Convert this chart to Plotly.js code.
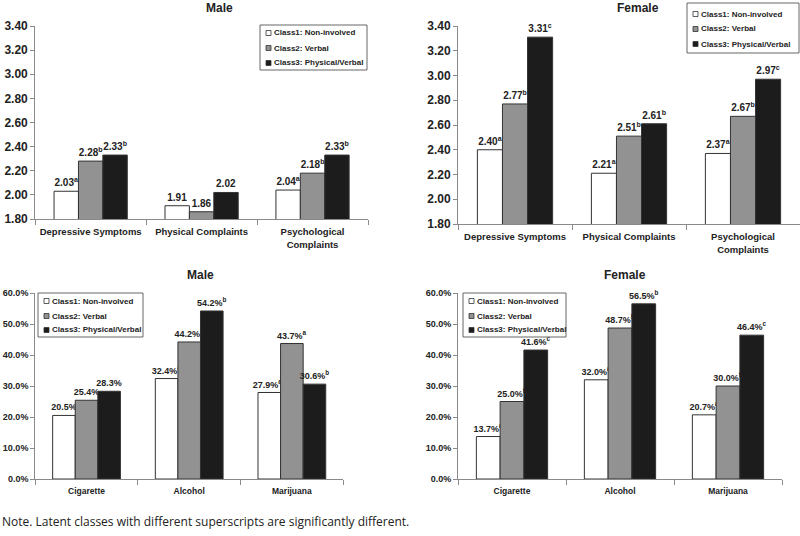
<!DOCTYPE html>
<html>
<head>
<meta charset="utf-8">
<script src="https://cdn.plot.ly/plotly-3.0.1.min.js"></script>
<style>
  body { margin: 0; background: #fff; }
  #chart { width: 800px; height: 536px; }
</style>
</head>
<body>
<div id="chart"></div>
<script>
// categories
var symptoms = ["Depressive Symptoms", "Physical Complaints", "Psychological<br>Complaints"];
var substances = ["Cigarette", "Alcohol", "Marijuana"];
var classNames = ["Class1: Non-involved", "Class2: Verbal", "Class3: Physical/Verbal"];

// mean scores (top row)
var maleSym1 = [2.03, 1.91, 2.04];
var maleSym2 = [2.28, 1.86, 2.18];
var maleSym3 = [2.33, 2.02, 2.33];
var maleSymSup1 = ["a", "", "a"];
var maleSymSup2 = ["b", "", "b"];
var maleSymSup3 = ["b", "", "b"];

var femaleSym1 = [2.40, 2.21, 2.37];
var femaleSym2 = [2.77, 2.51, 2.67];
var femaleSym3 = [3.31, 2.61, 2.97];
var femaleSymSup1 = ["a", "a", "a"];
var femaleSymSup2 = ["b", "b", "b"];
var femaleSymSup3 = ["c", "b", "c"];

// percentages (bottom row)
var maleSub1 = [20.5, 32.4, 27.9];
var maleSub2 = [25.4, 44.2, 43.7];
var maleSub3 = [28.3, 54.2, 30.6];
var maleSubSup1 = ["", "a", "ab"];
var maleSubSup2 = ["", "b", "a"];
var maleSubSup3 = ["", "b", "b"];

var femaleSub1 = [13.7, 32.0, 20.7];
var femaleSub2 = [25.0, 48.7, 30.0];
var femaleSub3 = [41.6, 56.5, 46.4];
var femaleSubSup1 = ["a", "a", "a"];
var femaleSubSup2 = ["b", "b", "b"];
var femaleSubSup3 = ["c", "b", "c"];

var fills = ["#ffffff", "#929292", "#1c1c1c"];
var FONT = "Liberation Sans, Arial, sans-serif";
var W = 800, H = 536;

function labels(vals, sups, digits, suffix) {
  return vals.map(function(v, i) {
    var s = v.toFixed(digits) + suffix;
    if (sups[i]) s += "<sup>" + sups[i] + "</sup>";
    return s;
  });
}

function bars(cats, vals, sups, k, ax, digits, suffix, size) {
  return {
    type: "bar",
    x: cats,
    y: vals,
    name: classNames[k],
    xaxis: "x" + ax,
    yaxis: "y" + ax,
    marker: {color: fills[k], line: {color: "#333", width: 1}},
    text: labels(vals, sups, digits, suffix),
    textposition: "outside",
    constraintext: "none",
    cliponaxis: false,
    textfont: {family: FONT, size: size, weight: 700, color: "#222"},
    hoverinfo: "none"
  };
}

var traces = [
  bars(symptoms, maleSym1, maleSymSup1, 0, "", 2, "", 10),
  bars(symptoms, maleSym2, maleSymSup2, 1, "", 2, "", 10),
  bars(symptoms, maleSym3, maleSymSup3, 2, "", 2, "", 10),
  bars(symptoms, femaleSym1, femaleSymSup1, 0, "2", 2, "", 10),
  bars(symptoms, femaleSym2, femaleSymSup2, 1, "2", 2, "", 10),
  bars(symptoms, femaleSym3, femaleSymSup3, 2, "2", 2, "", 10),
  bars(substances, maleSub1, maleSubSup1, 0, "3", 1, "%", 9),
  bars(substances, maleSub2, maleSubSup2, 1, "3", 1, "%", 9),
  bars(substances, maleSub3, maleSubSup3, 2, "3", 1, "%", 9),
  bars(substances, femaleSub1, femaleSubSup1, 0, "4", 1, "%", 9),
  bars(substances, femaleSub2, femaleSubSup2, 1, "4", 1, "%", 9),
  bars(substances, femaleSub3, femaleSubSup3, 2, "4", 1, "%", 9)
];

function xax(dom, anchor, size, standoff) {
  return {
    domain: dom, anchor: anchor, type: "category", tickangle: 0,
    showline: true, linecolor: "#8a8a8a", linewidth: 1,
    ticks: "outside", tickson: "boundaries", ticklen: 5, tickcolor: "#8a8a8a",
    ticklabelstandoff: standoff,
    tickfont: {family: FONT, size: size, weight: 700, color: "#222"},
    showgrid: false, zeroline: false, fixedrange: true
  };
}
function yax(dom, anchor, range, dtick, fmt, suffix, size) {
  return {
    domain: dom, anchor: anchor, range: range, dtick: dtick,
    tickformat: fmt, ticksuffix: suffix,
    showline: true, linecolor: "#8a8a8a", linewidth: 1,
    ticks: "outside", ticklen: 4, tickcolor: "#8a8a8a",
    tickfont: {family: FONT, size: size, weight: 700, color: "#222"},
    showgrid: false, zeroline: false, fixedrange: true
  };
}

// hand-drawn legend boxes (pixel positions)
var shapes = [], annotations = [];
function legendBox(x0, y0, w, h, rows) {
  shapes.push({type: "rect", xref: "paper", yref: "paper",
    x0: x0 / W, x1: (x0 + w) / W, y0: 1 - y0 / H, y1: 1 - (y0 + h) / H,
    line: {color: "#666", width: 1}, fillcolor: "#fff", layer: "above"});
  for (var k = 0; k < 3; k++) {
    var ry = y0 + rows[k];
    shapes.push({type: "rect", xref: "paper", yref: "paper",
      x0: (x0 + 6) / W, x1: (x0 + 11) / W, y0: 1 - (ry - 2.5) / H, y1: 1 - (ry + 2.5) / H,
      line: {color: "#333", width: 0.8}, fillcolor: fills[k], layer: "above"});
    annotations.push({text: classNames[k], xref: "paper", yref: "paper",
      x: (x0 + 12) / W, y: 1 - ry / H, xanchor: "left", yanchor: "middle",
      showarrow: false, font: {family: FONT, size: 8, weight: 700, color: "#222"}});
  }
}
legendBox(260, 25, 107, 45, [8, 23, 38]);
legendBox(687, 3, 112, 50, [11, 26, 41]);
legendBox(38, 293, 105, 44, [8, 23, 37]);
legendBox(463, 293, 103, 44, [8, 23, 37]);

[["Male", 219, 8], ["Female", 638, 8], ["Male", 200, 275], ["Female", 625, 275]].forEach(function(t) {
  annotations.push({text: t[0], xref: "paper", yref: "paper", x: t[1] / W, y: 1 - t[2] / H,
    xanchor: "center", yanchor: "middle", showarrow: false,
    font: {family: FONT, size: 12, weight: 700, color: "#222"}});
});
annotations.push({
  text: "Note. Latent classes with different superscripts are significantly different.",
  xref: "paper", yref: "paper", x: 0, y: 1 - 521 / H,
  xanchor: "left", yanchor: "middle", showarrow: false,
  font: {family: "Open Sans, sans-serif", size: 12, color: "#222"}
});

var layout = {
  width: W, height: H,
  margin: {l: 0, r: 0, t: 0, b: 0},
  paper_bgcolor: "#fff", plot_bgcolor: "#fff",
  barmode: "group", bargap: 0.34, bargroupgap: 0,
  showlegend: false,
  xaxis: xax([0.044, 0.46], "y", 9.5, 4),
  yaxis: yax([1 - 219 / H, 1 - 26 / H], "x", [1.8, 3.4], 0.2, ".2f", "", 12),
  xaxis2: xax([0.5725, 1.0], "y2", 9.5, 4),
  yaxis2: yax([1 - 224 / H, 1 - 26 / H], "x2", [1.8, 3.4], 0.2, ".2f", "", 12),
  xaxis3: xax([0.044, 0.429], "y3", 8.5, 4),
  yaxis3: yax([1 - 479 / H, 1 - 293 / H], "x3", [0, 60], 10, ".1f", "%", 9),
  xaxis4: xax([0.5725, 0.9775], "y4", 8.5, 4),
  yaxis4: yax([1 - 479 / H, 1 - 293 / H], "x4", [0, 60], 10, ".1f", "%", 9),
  shapes: shapes,
  annotations: annotations
};

Plotly.newPlot("chart", traces, layout, {displayModeBar: false, staticPlot: true});
</script>
</body>
</html>
